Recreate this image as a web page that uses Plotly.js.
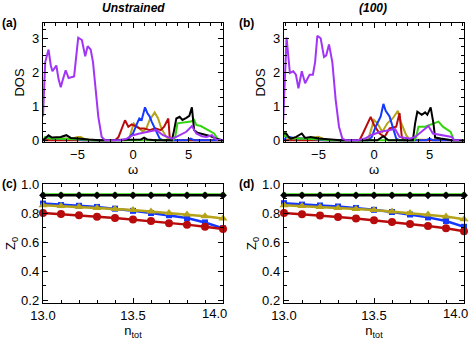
<!DOCTYPE html>
<html>
<head>
<meta charset="utf-8">
<script src="https://cdn.plot.ly/plotly-3.0.1.min.js"></script>
<style>
  html, body { margin: 0; padding: 0; background: #fff; }
  #chart { width: 471px; height: 340px; }
</style>
</head>
<body>
<div id="chart"></div>
<script>
// ---- panel (a) : DOS, unstrained ----
const wA_purple = [-8.1,-7.9,-7.6,-7.4,-7.25,-6.9,-6.7,-6.5,-6.3,-6.06,-5.8,-5.5,-5.3,-5.1,-4.93,-4.6,-4.3,-4.08,-3.81,-3.6,-3.42,-3.12,-2.82,-2.5,-2.0,-1.5,-1.17,-0.57,0,0.6,1.23,1.7,2.1,2.7,3.1,3.5,3.9,4.4,4.8,5.3,5.7,6.2,6.6,7.1,7.5,8.1];
const dA_purple = [0.7,2.3,2.67,2.2,2.03,2.2,1.8,1.56,1.8,2.06,1.83,1.85,1.88,2.5,3.02,2.95,2.47,2.77,2.67,2.3,1.68,0.69,0.1,0,0,0,0,0.05,0.15,0.2,0.25,0.27,0.3,0.15,0.1,0.05,0.1,0.18,0.25,0.42,0.2,0.12,0.1,0.15,0.02,0];
const wA_black = [-8.1,-7.8,-7.6,-7.3,-6.9,-6.5,-6.0,-5.6,-5.0,-4.5,-4.0,-3.0,0.0,0.7,1.0,1.3,2.0,3.5,3.7,3.9,4.2,4.45,4.8,5.07,5.3,5.5,5.8,6.3,7.0,7.5,7.9,8.1];
const dA_black = [0,0.1,0.15,0.08,0.08,0.1,0.15,0.07,0.05,0.03,0.02,0,0,0.02,0.08,0.02,0,0,0.3,0.64,0.69,0.6,0.66,0.72,0.97,0.3,0.22,0.18,0.12,0.05,0.02,0];
const wA_green = [-8.1,-7.9,-7.5,-7.0,-6.0,-5.0,-4.5,-4.0,3.6,3.8,4.0,4.5,5.0,5.2,5.5,5.7,6.1,6.7,7.0,7.3,7.6,7.8,8.1];
const dA_green = [0,0.1,0.05,0.05,0.04,0.03,0.02,0,0,0.1,0.5,0.52,0.55,0.55,0.6,0.45,0.42,0.3,0.25,0.2,0.05,0,0];
const wA_red = [-8.1,-1.6,-1.3,-1.0,-0.72,-0.42,-0.12,0.3,0.6,1.0,1.5,2.0,2.5,2.8,3.18,3.3,3.5,8.1];
const dA_red = [0,0,0.1,0.35,0.59,0.4,0.47,0.4,0.35,0.35,0.3,0.35,0.3,0.4,0.64,0.1,0,0];
const wA_blue = [-8.1,-7.9,-7.7,-7.3,-6.5,-5.5,-5.0,-4.5,-1.0,-0.5,0.0,0.33,0.57,0.78,1.08,1.29,1.5,1.68,2.1,2.4,2.7,4.8,5.2,5.5,8.1];
const dA_blue = [0,0.05,0.1,0.05,0.05,0.05,0.03,0,0,0.03,0.2,0.47,0.64,0.6,0.97,0.8,0.7,0.55,0.25,0.05,0,0,0.05,0,0];
const wA_yellow = [-8.1,-7.5,-6.5,-5.5,-5.0,-4.7,-4.3,-3.5,-0.6,-0.3,0.06,0.35,0.6,0.9,1.2,1.5,1.95,2.25,2.55,3.0,3.3,8.1];
const dA_yellow = [0,0.05,0.05,0.05,0.1,0.1,0.03,0,0,0.1,0.5,0.42,0.35,0.25,0.35,0.6,0.82,0.65,0.35,0.1,0,0];

// ---- panel (b) : DOS, (100) ----
const wB_purple = [-8.17,-8.0,-7.87,-7.57,-7.27,-7.03,-6.8,-6.5,-6.2,-5.8,-5.5,-5.3,-5.1,-4.8,-4.5,-4.3,-4.05,-3.75,-3.45,-3.15,-2.85,-2.5,-1.5,-0.8,-0.3,0.6,1.5,1.9,2.3,3.2,3.7,4.4,4.9,5.3,6.2,7.0,7.2,8.1];
const dB_purple = [0.6,2.0,3.02,1.98,2.03,1.93,1.53,2.03,1.68,1.93,1.93,2.3,3.07,3.0,2.45,2.5,2.82,2.3,1.19,0.4,0.05,0,0,0.05,0.15,0.25,0.3,0.33,0.1,0.05,0.1,0.3,0.42,0.2,0.15,0.1,0,0];
const wB_black = [-8.1,-7.9,-7.7,-7.5,-7.0,-6.5,-6.2,-5.7,-5.0,-4.0,-3.0,0.3,0.84,1.3,3.5,3.7,3.9,4.3,4.6,4.8,5.1,5.35,5.5,6.0,7.0,8.1];
const dB_black = [0.2,0.2,0.1,0.05,0.1,0.2,0.07,0.1,0.05,0.02,0,0,0.12,0,0,0.5,0.84,0.75,0.82,0.75,0.97,0.5,0.08,0.05,0,0];
const wB_green = [-8.1,-8.0,-7.8,-7.5,-7.0,-6.0,-5.0,-4.0,3.6,3.8,4.0,4.6,5.0,5.5,5.8,6.2,6.9,7.2,8.1];
const dB_green = [0.1,0.25,0.1,0.05,0.05,0.05,0.03,0,0,0.1,0.4,0.4,0.45,0.5,0.55,0.4,0.25,0,0];
const wB_red = [-8.1,-1.3,-1.0,-0.65,-0.3,0.0,0.5,0.95,1.4,2.0,2.3,2.5,2.7,8.1];
const dB_red = [0,0,0.2,0.47,0.69,0.45,0.2,0.1,0.35,0.4,0.8,0.1,0,0];
const wB_blue = [-8.1,-7.9,-7.6,-7.0,-6.0,-5.0,-4.5,-0.5,-0.2,0.15,0.6,0.85,1.05,1.4,1.7,2.0,2.3,4.7,5.0,5.3,8.1];
const dB_blue = [0,0.1,0.1,0.05,0.05,0.03,0,0,0.1,0.4,0.7,1.07,0.87,0.7,0.4,0.05,0,0,0.05,0,0];
const wB_yellow = [-8.1,-7.5,-6.0,-5.3,-5.0,-4.6,-4.0,-0.6,-0.45,0.0,0.3,0.75,1.2,1.7,2.15,2.4,2.9,3.2,8.1];
const dB_yellow = [0,0.05,0.05,0.08,0.1,0.05,0,0,0.1,0.6,0.5,0.25,0.5,0.65,0.87,0.55,0.15,0.02,0];

// ---- panels (c), (d) : Z0 vs n_tot ----
const ntot = [13.0,13.1,13.2,13.3,13.4,13.5,13.6,13.7,13.8,13.9,14.0];
const ntotTicks = [13.0, 13.5, 14.0];
const ntotTickText = ['13.0', '13.5', '14.0'];
const zC_green  = [0.928,0.928,0.928,0.928,0.928,0.928,0.928,0.928,0.928,0.928,0.928];
const zC_black  = [0.922,0.922,0.922,0.922,0.922,0.922,0.922,0.922,0.922,0.922,0.922];
const zC_blue   = [0.865,0.855,0.85,0.842,0.83,0.815,0.80,0.785,0.765,0.735,0.695];
const zC_yellow = [0.853,0.848,0.843,0.835,0.828,0.82,0.81,0.8,0.79,0.778,0.762];
const zC_red    = [0.80,0.793,0.785,0.775,0.765,0.755,0.745,0.73,0.72,0.705,0.69];
const zD_green  = [0.928,0.928,0.928,0.928,0.928,0.928,0.928,0.928,0.928,0.928,0.928];
const zD_black  = [0.922,0.922,0.922,0.922,0.922,0.922,0.922,0.922,0.922,0.922,0.922];
const zD_blue   = [0.868,0.858,0.852,0.845,0.835,0.822,0.807,0.79,0.77,0.745,0.705];
const zD_yellow = [0.853,0.848,0.842,0.835,0.828,0.82,0.81,0.8,0.79,0.776,0.757];
const zD_red    = [0.80,0.792,0.783,0.773,0.762,0.75,0.738,0.725,0.71,0.695,0.675];

const col = {
  purple: '#a235f5', black: '#000000', green: '#33d40f',
  red: '#b80c0c', blue: '#1438ff', yellow: '#b5a31a'
};

function dosLine(x, y, c, ax) {
  return { x: x, y: y, type: 'scatter', mode: 'lines', xaxis: 'x' + ax, yaxis: 'y' + ax,
           line: { color: col[c], width: 2 }, hoverinfo: 'skip' };
}
function zLine(y, c, sym, size, ax) {
  return { x: ntot, y: y, type: 'scatter', mode: 'lines+markers', xaxis: 'x' + ax, yaxis: 'y' + ax,
           line: { color: col[c], width: 2.5 }, cliponaxis: false,
           marker: { color: col[c], symbol: sym, size: size }, hoverinfo: 'skip' };
}

const data = [
  dosLine(wA_yellow, dA_yellow, 'yellow', ''),
  dosLine(wA_red, dA_red, 'red', ''),
  dosLine(wA_blue, dA_blue, 'blue', ''),
  dosLine(wA_green, dA_green, 'green', ''),
  dosLine(wA_black, dA_black, 'black', ''),
  dosLine(wA_purple, dA_purple, 'purple', ''),

  dosLine(wB_yellow, dB_yellow, 'yellow', '2'),
  dosLine(wB_red, dB_red, 'red', '2'),
  dosLine(wB_blue, dB_blue, 'blue', '2'),
  dosLine(wB_green, dB_green, 'green', '2'),
  dosLine(wB_black, dB_black, 'black', '2'),
  dosLine(wB_purple, dB_purple, 'purple', '2'),

  zLine(zC_green, 'green', 'square', 4, '3'),
  zLine(zC_black, 'black', 'diamond', 6, '3'),
  zLine(zC_blue, 'blue', 'square', 6, '3'),
  zLine(zC_red, 'red', 'circle', 8, '3'),
  zLine(zC_yellow, 'yellow', 'triangle-up', 8, '3'),

  zLine(zD_green, 'green', 'square', 4, '4'),
  zLine(zD_black, 'black', 'diamond', 6, '4'),
  zLine(zD_blue, 'blue', 'square', 6, '4'),
  zLine(zD_red, 'red', 'circle', 8, '4'),
  zLine(zD_yellow, 'yellow', 'triangle-up', 8, '4')
];

const font = 'Liberation Sans, Arial, sans-serif';
const W = 471, H = 340;
const colL = [43 / W, 223 / W], colR = [284 / W, 464 / W];
const rowT = [1 - 142 / H, 1 - 23 / H], rowB = [1 - 303 / H, 1 - 184 / H];

function ax(extra) {
  return Object.assign({
    showgrid: false, zeroline: false, showline: true, linecolor: '#000', linewidth: 1.2,
    mirror: 'allticks', ticks: 'inside', ticklen: 5, tickcolor: '#000',
    tickfont: { family: font, size: 13, color: '#000' }, automargin: false
  }, extra);
}

const dosX = (anchor, dom) => ax({ domain: dom, anchor: anchor, range: [-8.1, 8.1], tickvals: [-5, 0, 5],
  minor: { dtick: 1, tick0: 0, ticks: 'inside', ticklen: 3, tickcolor: '#000' },
  title: { text: 'ω', font: { family: font, size: 13, color: '#000' }, standoff: 0 } });
const dosY = (anchor, dom) => ax({ domain: dom, anchor: anchor, range: [-0.05, 3.45], dtick: 1,
  minor: { dtick: 0.25, ticks: 'inside', ticklen: 3, tickcolor: '#000' },
  title: { text: 'DOS', font: { family: font, size: 13, color: '#000' }, standoff: 4 } });
// last n_tot label sits at the plot edge; it is drawn as a note nudged left
const zX = (anchor, dom) => ax({ domain: dom, anchor: anchor, range: [13.0, 14.0],
  tickvals: ntotTicks, ticktext: ntotTickText.slice(0, 2).concat(['']),
  minor: { dtick: 0.1, tick0: 13, ticks: 'inside', ticklen: 3, tickcolor: '#000' },
  title: { text: 'n<sub>tot</sub>', font: { family: font, size: 13, color: '#000' }, standoff: 0 } });
const zY = (anchor, dom) => ax({ domain: dom, anchor: anchor, range: [0.18, 1.0], dtick: 0.2, tick0: 0.2, tickformat: '.1f',
  minor: { dtick: 0.1, tick0: 0.2, ticks: 'inside', ticklen: 3, tickcolor: '#000' },
  title: { text: 'Z<sub>0</sub>', font: { family: font, size: 13, color: '#000' }, standoff: 2 } });

const lab = (text, x, y, extra) => Object.assign({ text: text, x: x, y: y, xref: 'paper', yref: 'paper',
  xanchor: 'left', yanchor: 'middle', showarrow: false, font: { family: font, size: 12, color: '#000' } }, extra || {});

const lastTick = (xref) => ({ text: ntotTickText[2], x: ntotTicks[2], xref: xref, xanchor: 'right', xshift: 6,
  y: 1 - 303 / H, yref: 'paper', yanchor: 'top', yshift: -1, showarrow: false,
  font: { family: font, size: 13, color: '#000' } });

const layout = {
  width: W, height: H, margin: { l: 0, r: 0, t: 0, b: 0 },
  paper_bgcolor: '#fff', plot_bgcolor: '#fff', showlegend: false,
  xaxis: dosX('y', colL), yaxis: dosY('x', rowT),
  xaxis2: dosX('y2', colR), yaxis2: dosY('x2', rowT),
  xaxis3: zX('y3', colL), yaxis3: zY('x3', rowB),
  xaxis4: zX('y4', colR), yaxis4: zY('x4', rowB),
  annotations: [
    lab('<b><i>Unstrained</i></b>', 133 / W, 1 - 8 / H, { xanchor: 'center' }),
    lab('<b><i>(100)</i></b>', 373 / W, 1 - 8 / H, { xanchor: 'center' }),
    lab('<b>(a)</b>', 0, 1 - 23 / H),
    lab('<b>(b)</b>', 237 / W, 1 - 23 / H),
    lab('<b>(c)</b>', 0, 1 - 184 / H),
    lab('<b>(d)</b>', 237 / W, 1 - 184 / H),
    lastTick('x3'),
    lastTick('x4')
  ]
};

Plotly.newPlot('chart', data, layout, { staticPlot: true });
</script>
</body>
</html>
